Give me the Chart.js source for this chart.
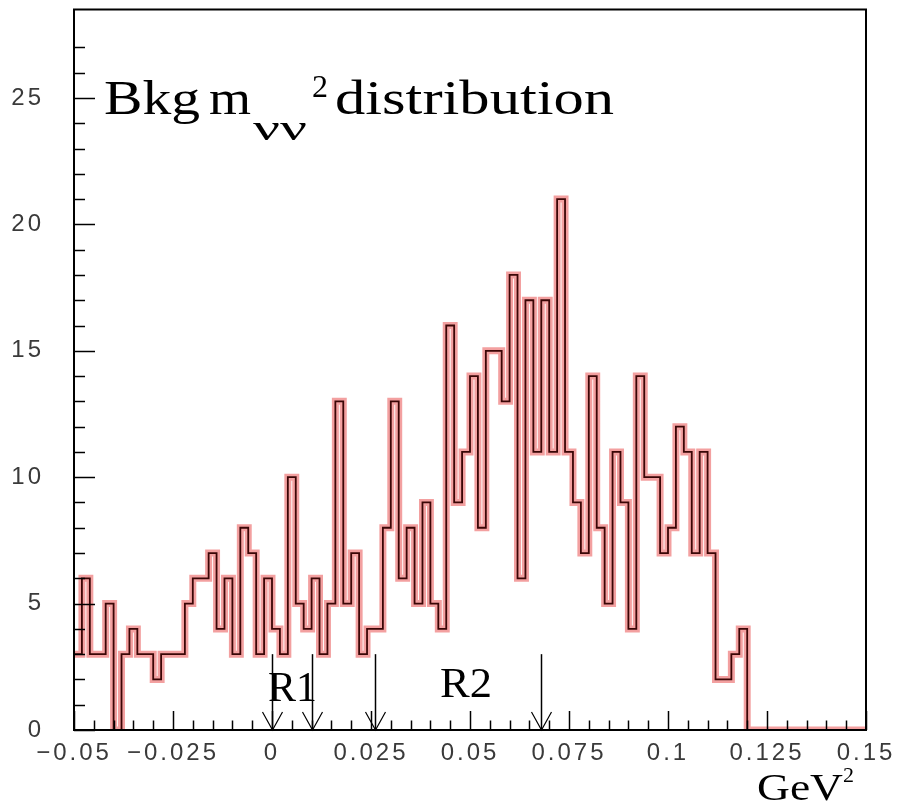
<!DOCTYPE html>
<html>
<head>
<meta charset="utf-8">
<script src="https://cdn.jsdelivr.net/npm/chart.js@4.4.0/dist/chart.umd.min.js"></script>
<style>
  body { margin: 0; background: #fff; }
  canvas { display: block; }
</style>
</head>
<body>
<canvas id="hist" width="901" height="804"></canvas>
<script>
// histogram: 100 bins of 0.002 GeV^2 starting at -0.05
const binLow = -0.05;
const binWidth = 0.002;
const counts = [
  3, 6, 3, 3, 5, 0, 3, 4, 3, 3,
  2, 3, 3, 3, 5, 6, 6, 7, 4, 6,
  3, 8, 7, 3, 6, 4, 3, 10, 5, 4,
  6, 3, 5, 13, 5, 7, 3, 4, 4, 8,
  13, 6, 8, 5, 9, 5, 4, 16, 9, 11,
  14, 8, 15, 15, 13, 18, 6, 17, 11, 17,
  11, 21, 11, 9, 7, 14, 8, 5, 11, 9,
  4, 14, 10, 10, 7, 8, 12, 11, 7, 11,
  7, 2, 2, 3, 4, 0, 0, 0, 0, 0,
  0, 0, 0, 0, 0, 0, 0, 0, 0, 0
];

// cut arrows (value where they start, x positions)
const arrowX = [0, 0.01, 0.026, 0.068];
const arrowTop = 3;

// axis ticks
const xLabelValues = [-0.05, -0.025, 0, 0.025, 0.05, 0.075, 0.1, 0.125, 0.15];
const xLabels = ["\u22120.05", "\u22120.025", "0", "0.025", "0.05", "0.075", "0.1", "0.125", "0.15"];
const yLabelValues = [0, 5, 10, 15, 20, 25];
const yLabels = ["0", "5", "10", "15", "20", "25"];

const points = counts.map((c, i) => ({ x: binLow + i * binWidth, y: c }));
points.push({ x: binLow + counts.length * binWidth, y: counts[counts.length - 1] });

function labelFor(values, labels, v) {
  const i = values.findIndex(t => Math.abs(t - v) < 1e-7);
  return i >= 0 ? labels[i] : "";
}

function fitText(ctx, str, x, base, size, w) {
  ctx.font = size + 'px "Liberation Serif"';
  const m = ctx.measureText(str).width;
  ctx.save();
  ctx.translate(x, base);
  ctx.scale(w / m, 1);
  ctx.fillText(str, 0, 0);
  ctx.restore();
}

const framePlugin = {
  id: "frame",
  beforeDraw(chart) {
    chart.ctx.letterSpacing = "3px";
  },
  afterDatasetsDraw(chart) {
    const ctx = chart.ctx;
    const a = chart.chartArea;
    const xs = chart.scales.x, ys = chart.scales.y;
    ctx.save();
    ctx.strokeStyle = "#000";

    // arrows
    arrowX.forEach(v => {
      const px = Math.round(xs.getPixelForValue(v)) + 0.5;
      const top = ys.getPixelForValue(arrowTop);
      ctx.lineWidth = 1.5;
      ctx.beginPath();
      ctx.moveTo(px, top);
      ctx.lineTo(px, a.bottom);
      ctx.stroke();
      ctx.lineWidth = 1.2;
      ctx.beginPath();
      ctx.moveTo(px - 10, a.bottom - 18);
      ctx.lineTo(px, a.bottom);
      ctx.lineTo(px + 10, a.bottom - 18);
      ctx.stroke();
    });

    // inward ticks
    ctx.lineWidth = 1.5;
    xs.ticks.forEach(t => {
      const k = Math.round(t.value * 1000);
      if (Math.abs(t.value * 1000 - k) > 1e-6 || k % 5 !== 0) return;
      const len = k % 25 === 0 ? 19 : 9.5;
      const px = Math.round(xs.getPixelForValue(t.value)) + 0.5;
      ctx.beginPath();
      ctx.moveTo(px, a.bottom);
      ctx.lineTo(px, a.bottom - len);
      ctx.stroke();
    });
    ys.ticks.forEach(t => {
      const k = Math.round(t.value);
      if (Math.abs(t.value - k) > 1e-6) return;
      const len = k % 5 === 0 ? 21 : 11;
      const py = Math.round(ys.getPixelForValue(t.value)) + 0.5;
      ctx.beginPath();
      ctx.moveTo(a.left, py);
      ctx.lineTo(a.left + len, py);
      ctx.stroke();
    });

    // frame
    ctx.lineWidth = 2;
    ctx.strokeRect(a.left, a.top, a.right - a.left, a.bottom - a.top);
    ctx.restore();
  },
  afterDraw(chart) {
    const ctx = chart.ctx;
    ctx.save();
    ctx.letterSpacing = "0px";
    ctx.fillStyle = "#000";
    ctx.textBaseline = "alphabetic";
    ctx.textAlign = "left";
    // title
    fitText(ctx, "Bkg", 104, 114, 48, 96);
    fitText(ctx, "m", 209, 114, 48, 42);
    fitText(ctx, "\u03bd\u03bd", 253, 140, 36, 54);
    fitText(ctx, "2", 312, 97, 32, 16);
    fitText(ctx, "distribution", 335, 114, 48, 279);
    // region labels
    fitText(ctx, "R1", 268, 701, 42, 49);
    fitText(ctx, "R2", 440, 697, 42, 52);
    // axis unit
    fitText(ctx, "GeV", 757, 800, 38, 86);
    fitText(ctx, "2", 843, 782, 22, 11);
    ctx.restore();
  }
};

const tickFont = { family: "'Liberation Sans', sans-serif", size: 24 };

new Chart(document.getElementById("hist"), {
  type: "line",
  data: {
    datasets: [
      {
        data: points,
        stepped: "before",
        borderColor: "#3a0606",
        borderWidth: 1.8,
        pointRadius: 0,
        fill: false,
        borderJoinStyle: "miter",
        order: 0
      },
      {
        data: points,
        stepped: "before",
        borderColor: "#f3a0a0",
        borderWidth: 7,
        pointRadius: 0,
        fill: false,
        borderJoinStyle: "miter",
        order: 1
      }
    ]
  },
  options: {
    responsive: false,
    animation: false,
    layout: { padding: { left: 0, top: 9.5, right: 35, bottom: 0 } },
    plugins: {
      legend: { display: false },
      tooltip: { enabled: false }
    },
    scales: {
      x: {
        type: "linear",
        min: -0.05,
        max: 0.15,
        afterFit(s) { s.height = 74; s.paddingLeft = 0; s.paddingRight = 0; },
        grid: { display: false, drawTicks: false },
        border: { display: false },
        ticks: {
          stepSize: 0.005,
          autoSkip: false,
          maxRotation: 0,
          padding: 9,
          color: "#3a3a3a",
          font: tickFont,
          callback: v => labelFor(xLabelValues, xLabels, v)
        }
      },
      y: {
        min: 0,
        max: 28.5,
        afterFit(s) { s.width = 74; s.paddingTop = 0; s.paddingBottom = 0; },
        grid: { display: false, drawTicks: false },
        border: { display: false },
        ticks: {
          stepSize: 1,
          autoSkip: false,
          padding: 30,
          color: "#3a3a3a",
          font: tickFont,
          callback: v => labelFor(yLabelValues, yLabels, v)
        }
      }
    }
  },
  plugins: [framePlugin]
});
</script>
</body>
</html>
